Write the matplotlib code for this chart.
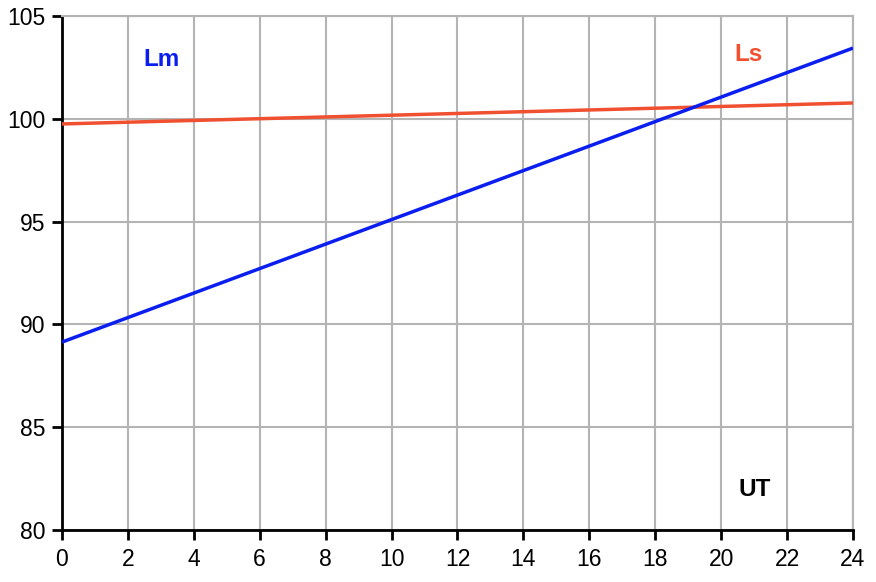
import matplotlib
matplotlib.use("Agg")
import matplotlib.pyplot as plt

plt.rcParams['font.family'] = ['Liberation Sans', 'DejaVu Sans']

ut = [0, 24]
lm = [89.14, 103.44]
ls = [99.75, 100.77]
xticks = list(range(0, 25, 2))
yticks = [80, 85, 90, 95, 100, 105]

fig = plt.figure(figsize=(8.76, 5.82), dpi=100)
ax = fig.add_axes([62/876, 1-530/582, (853-62)/876, (530-16)/582])

ax.plot(ut, ls, color='#f05030', lw=2.5, solid_capstyle='butt', zorder=3)
ax.plot(ut, lm, color='#0a1ef0', lw=2.5, solid_capstyle='butt', zorder=4)

ax.set_xlim(0, 24)
ax.set_ylim(80, 105)
ax.set_xticks(xticks)
ax.set_yticks(yticks)
ax.grid(True, color='#b4b4b4', lw=1.5)
ax.set_axisbelow(True)
for s in ['top', 'right']:
    ax.spines[s].set_color('#b4b4b4')
    ax.spines[s].set_linewidth(1.5)
for s in ['left', 'bottom']:
    ax.spines[s].set_color('black')
    ax.spines[s].set_linewidth(2)
ax.tick_params(axis='both', direction='out', length=7, width=2, labelsize=16.5, pad=5)
ax.tick_params(axis='x', pad=6)

ax.text(3.03, 102.87, 'Lm', color='#0a1ef0', fontsize=17.5, fontweight='bold', ha='center', va='center')
ax.text(20.84, 103.15, 'Ls', color='#f05030', fontsize=17.5, fontweight='bold', ha='center', va='center')
ax.text(21.03, 81.95, 'UT', color='black', fontsize=17.5, fontweight='bold', ha='center', va='center')

fig.savefig('out.png', dpi=100)
